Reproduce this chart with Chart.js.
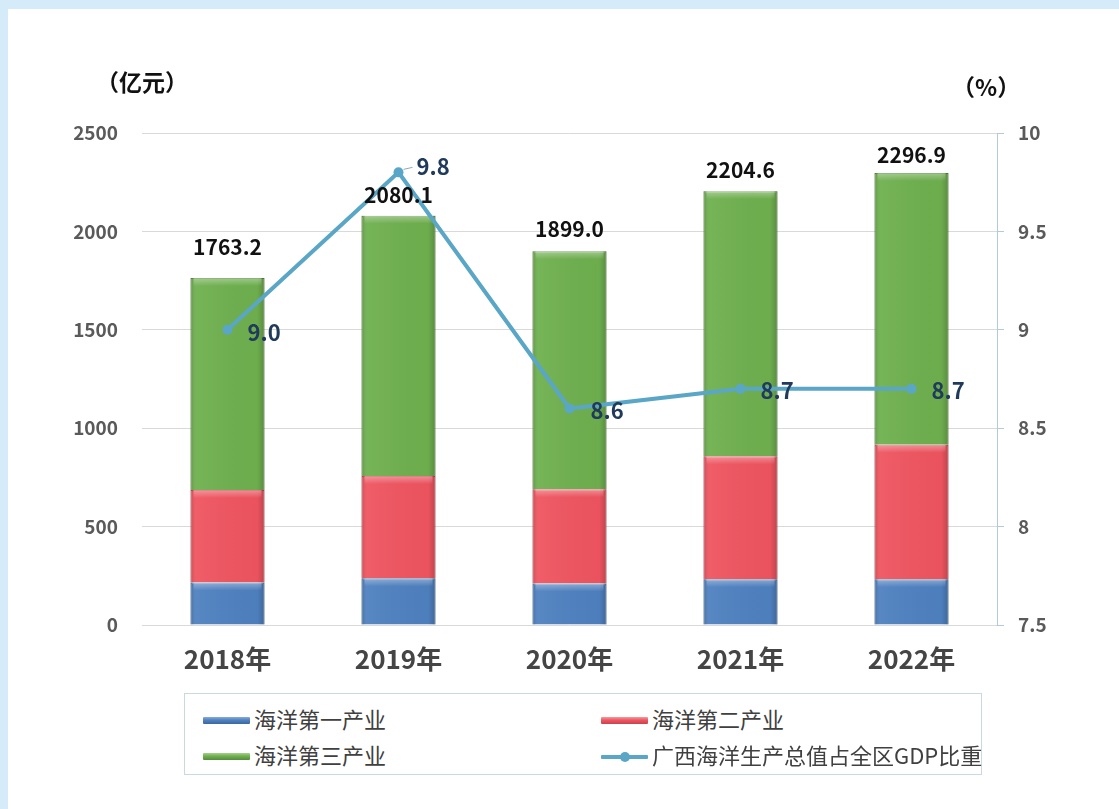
<!DOCTYPE html>
<html lang="zh-CN">
<head>
<meta charset="UTF-8">
<title>广西海洋生产总值</title>
<script src="https://cdn.jsdelivr.net/npm/chart.js"></script>
<style>
  html, body { margin: 0; padding: 0; width: 1119px; height: 809px; overflow: hidden; background: #d5ebf9; font-family: "Noto Sans CJK SC", "Noto Sans", sans-serif; }
  #panel { position: absolute; left: 8px; top: 9px; right: 0; bottom: 0; background: #fff; }
  #wrap { position: absolute; left: 0; top: 0; width: 1119px; height: 809px; }
  .unit { position: absolute; font-weight: bold; color: #111; white-space: nowrap; line-height: 1; }
  #legend { position: absolute; left: 184px; top: 693px; width: 798px; height: 82px; border: 1px solid #cbd8e2; box-sizing: border-box; background: #fff; }
  .item { position: absolute; height: 24px; line-height: 24px; font-size: 22px; color: #404040; white-space: nowrap; }
  .sw { display: inline-block; width: 47px; height: 7px; vertical-align: middle; margin: -3px 4px 0 0; border-radius: 1px; }
  .sw.line { height: 4px; position: relative; }
  .sw.line::after { content: ""; position: absolute; left: 19px; top: -3px; width: 10px; height: 10px; border-radius: 50%; background: #5aa6c6; }
</style>
</head>
<body>
<div id="panel"></div>
<div id="wrap"><canvas id="chart"></canvas></div>
<div class="unit" style="left:96px; top:70px; font-size:23px;">（亿元）</div>
<div class="unit" style="left:952px; top:75px; font-size:23px;">（%）</div>
<div id="legend">
  <div class="item" style="left:18px; top:12px;"><span class="sw" style="background:linear-gradient(#86acdb,#4f81c0 45%,#3b679f);"></span>海洋第一产业</div>
  <div class="item" style="left:416px; top:12px;"><span class="sw" style="background:linear-gradient(#f69aa0,#ef5560 45%,#c9424c);"></span>海洋第二产业</div>
  <div class="item" style="left:18px; top:48px;"><span class="sw" style="background:linear-gradient(#a4d08c,#6fb04f 45%,#548c3a);"></span>海洋第三产业</div>
  <div class="item" style="left:416px; top:48px;"><span class="sw line" style="background:#5aa6c6;"></span>广西海洋生产总值占全区GDP比重</div>
</div>
<script>
// 数据（亿元 / %）
const years = ['2018年', '2019年', '2020年', '2021年', '2022年'];
const primary = [216, 237, 211, 233, 233];          // 海洋第一产业
const secondary = [470, 520, 479, 624, 683];        // 海洋第二产业
const tertiary = [1077.2, 1323.1, 1209.0, 1347.6, 1380.9]; // 海洋第三产业
const totals = [1763.2, 2080.1, 1899.0, 2204.6, 2296.9];
const gdpShare = [9.0, 9.8, 8.6, 8.7, 8.7];         // 占全区GDP比重
const leftAxis = [0, 2500, 500];
const rightAxis = [7.5, 10, 0.5];

const FONT = '"Noto Sans CJK SC", "Noto Sans", sans-serif';
Chart.defaults.font.family = FONT;

// label placement tweaks (px)
const totalGap = [31, 21, 22, 21, 18];
const shareNudge = [[20, 3], [18, -6], [21, 2], [20, 2], [20, 2]];

// simple bevel look for the bars
const bevel = {
  id: 'bevel',
  afterDatasetDraw(chart, args) {
    if (args.meta.type !== 'bar') return;
    const ctx = chart.ctx;
    args.meta.data.forEach(bar => {
      const p = bar.getProps(['x', 'y', 'base', 'width'], true);
      const l = p.x - p.width / 2, top = Math.min(p.y, p.base), h = Math.abs(p.base - p.y);
      ctx.save();
      const g = ctx.createLinearGradient(l, 0, l + p.width, 0);
      g.addColorStop(0, 'rgba(0,0,0,0.16)');
      g.addColorStop(0.08, 'rgba(255,255,255,0.05)');
      g.addColorStop(0.9, 'rgba(0,0,0,0.02)');
      g.addColorStop(1, 'rgba(0,0,0,0.2)');
      ctx.fillStyle = g;
      ctx.fillRect(l, top, p.width, h);
      const t = ctx.createLinearGradient(0, top, 0, top + 8);
      t.addColorStop(0, 'rgba(255,255,255,0.35)');
      t.addColorStop(1, 'rgba(255,255,255,0)');
      ctx.fillStyle = t;
      ctx.fillRect(l + 3, top, p.width - 6, Math.min(8, h));
      ctx.restore();
    });
  }
};

const valueLabels = {
  id: 'valueLabels',
  afterDatasetsDraw(chart) {
    const ctx = chart.ctx;
    const x = chart.scales.x, y = chart.scales.y;
    ctx.save();
    ctx.font = 'bold 21px ' + FONT;
    ctx.fillStyle = '#111';
    ctx.textAlign = 'center';
    ctx.textBaseline = 'middle';
    totals.forEach((t, i) => {
      ctx.fillText(t.toFixed(1), x.getPixelForValue(i), y.getPixelForValue(t) - totalGap[i]);
    });

    const pts = chart.getDatasetMeta(3).data;
    // leader line for the 2019 label
    ctx.strokeStyle = '#8fa9bb';
    ctx.lineWidth = 1;
    ctx.beginPath();
    ctx.moveTo(pts[1].x + 5, pts[1].y - 3);
    ctx.lineTo(pts[1].x + 14, pts[1].y - 5);
    ctx.stroke();

    ctx.font = 'bold 22px ' + FONT;
    ctx.fillStyle = '#203a5c';
    ctx.textAlign = 'left';
    pts.forEach((pt, i) => {
      ctx.fillText(gdpShare[i].toFixed(1), pt.x + shareNudge[i][0], pt.y + shareNudge[i][1]);
    });
    ctx.restore();
  }
};

new Chart(document.getElementById('chart'), {
  data: {
    labels: years,
    datasets: [
      { type: 'bar', label: '海洋第一产业', data: primary, backgroundColor: '#4f81c0', borderColor: '#3e6ba4', borderWidth: 1, order: 1 },
      { type: 'bar', label: '海洋第二产业', data: secondary, backgroundColor: '#ef5560', borderColor: '#cf4650', borderWidth: 1, order: 1 },
      { type: 'bar', label: '海洋第三产业', data: tertiary, backgroundColor: '#6fb04f', borderColor: '#588f3d', borderWidth: 1, order: 1 },
      { type: 'line', label: '广西海洋生产总值占全区GDP比重', data: gdpShare, yAxisID: 'y2',
        borderColor: '#5aa6c6', backgroundColor: '#5aa6c6', borderWidth: 4,
        pointRadius: 5, pointBackgroundColor: '#5aa6c6', pointBorderWidth: 0, tension: 0, order: 0 }
    ]
  },
  options: {
    responsive: true,
    maintainAspectRatio: false,
    animation: false,
    datasets: { bar: { barPercentage: 0.433, categoryPercentage: 1 } },
    layout: { padding: { top: 133, left: 0, right: 0, bottom: 0 } },
    plugins: { legend: { display: false }, tooltip: { enabled: false } },
    scales: {
      x: {
        stacked: true,
        grid: { display: false, drawTicks: false },
        border: { display: false },
        ticks: { color: '#454545', padding: 19, font: { size: 26, weight: 'bold' } },
        afterFit: s => { s.height = 184; }
      },
      y: {
        stacked: true,
        min: leftAxis[0], max: leftAxis[1],
        ticks: { stepSize: leftAxis[2], padding: 24, color: '#5a5a5a', font: { size: 19, weight: 'bold' }, callback: v => String(v) },
        grid: { color: '#d9d9d9', drawTicks: false },
        border: { display: false },
        afterFit: s => { s.width = 142; }
      },
      y2: {
        position: 'right',
        min: rightAxis[0], max: rightAxis[1],
        ticks: { stepSize: rightAxis[2], padding: 14, color: '#5a5a5a', font: { size: 19, weight: 'bold' }, callback: v => String(v) },
        grid: { drawOnChartArea: false, drawTicks: true, tickLength: 7, color: '#b5cad8' },
        border: { display: true, color: '#b5cad8' },
        afterFit: s => { s.width = 122; }
      }
    }
  },
  plugins: [bevel, valueLabels]
});
</script>
</body>
</html>
